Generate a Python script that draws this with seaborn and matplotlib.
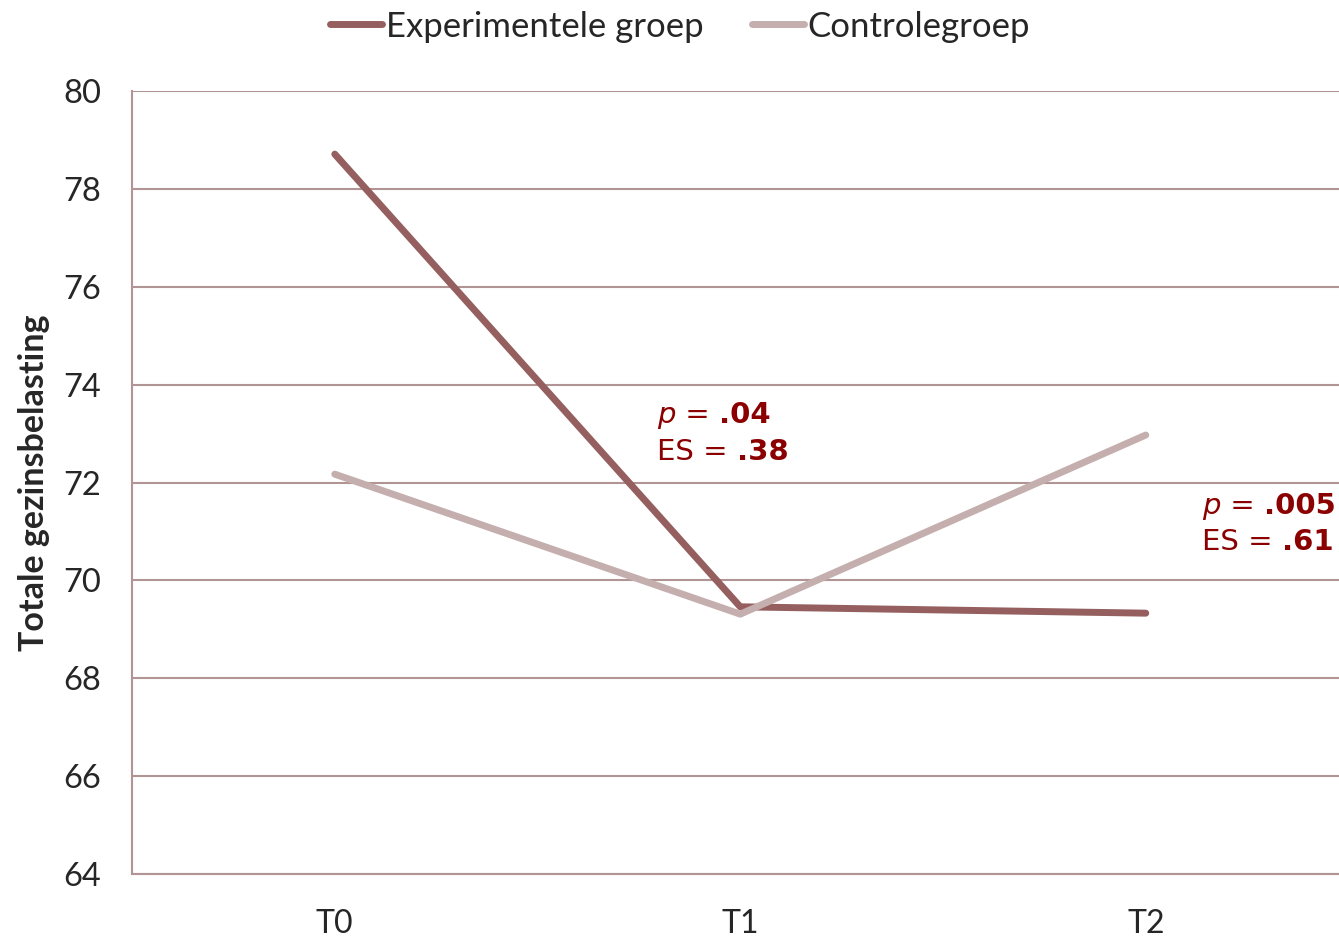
import seaborn as sns
import matplotlib.pyplot as plt
import pandas as pd
from matplotlib.ticker import FixedLocator
from matplotlib.offsetbox import TextArea, HPacker, VPacker, AnnotationBbox

# data
tijdstippen = ["T0", "T1", "T2"]
experimenteel = [78.71, 69.46, 69.33]
controle = [72.17, 69.31, 72.97]
groepen = ["Experimentele groep", "Controlegroep"]

# significance annotations: (p, ES, x position, y position)
p_waarden = [".04", ".005"]
es_waarden = [".38", ".61"]
annot_x = [0.795, 2.139]
annot_y = [73.0, 71.15]

df = pd.DataFrame({
    "tijd": tijdstippen * 2,
    "score": experimenteel + controle,
    "groep": [groepen[0]] * 3 + [groepen[1]] * 3,
})
df["x"] = df["tijd"].map({t: i for i, t in enumerate(tijdstippen)})

sns.set_style("white")
plt.rcParams["font.family"] = ["Lato", "DejaVu Sans"]

grid_kleur = "#B39494"
kleuren = {groepen[0]: "#955F5F", groepen[1]: "#C4AEAE"}
rood = "#8B0000"

fig = plt.figure(figsize=(13.39, 9.40), dpi=100)
ax = fig.add_axes([0.0986, 0.0702, 0.9085, 0.8330])

sns.lineplot(data=df, x="x", y="score", hue="groep", hue_order=groepen,
             palette=kleuren, linewidth=5, ax=ax, legend=False,
             solid_capstyle="round")

ax.set_xlim(-0.5, 2.5)
ax.set_ylim(64, 80)
ax.set_yticks(range(64, 81, 2))
ax.yaxis.grid(True, color=grid_kleur, linewidth=1.5)
ax.set_xticks(range(3))
ax.set_xticklabels(tijdstippen)
ax.xaxis.set_minor_locator(FixedLocator([-0.5, 0.5, 1.5, 2.5]))
ax.tick_params(axis="x", which="major", length=0, pad=25, labelsize=23)
ax.tick_params(axis="x", which="minor", length=8, width=1.5, color=grid_kleur, direction="out")
ax.tick_params(axis="y", length=8, width=1.5, color=grid_kleur, direction="out",
               pad=14, labelsize=23.5)

for kant in ["top", "right"]:
    ax.spines[kant].set_visible(False)
for kant in ["left", "bottom"]:
    ax.spines[kant].set_color(grid_kleur)
    ax.spines[kant].set_linewidth(1.5)

ax.set_xlabel("")
ax.set_ylabel("Totale gezinsbelasting", fontsize=24.5, fontweight="bold", labelpad=10)


def stuk(tekst, **kw):
    return TextArea(tekst, textprops=dict(color=rood, fontsize=21, family="DejaVu Sans", **kw))


for p, es, x, y in zip(p_waarden, es_waarden, annot_x, annot_y):
    regel1 = HPacker(children=[stuk("p", style="italic"), stuk(" = "), stuk(p, weight="bold")],
                     sep=0, pad=0, align="baseline")
    regel2 = HPacker(children=[stuk("ES = "), stuk(es, weight="bold")],
                     sep=0, pad=0, align="baseline")
    blok = VPacker(children=[regel1, regel2], sep=6, pad=0, align="left")
    ab = AnnotationBbox(blok, (x, y), xycoords="data", box_alignment=(0, 0.5),
                        frameon=False, pad=0)
    ax.add_artist(ab)

# legend above the plot
handles = [plt.Line2D([], [], color=kleuren[g], linewidth=5, solid_capstyle="round") for g in groepen]
fig.legend(handles, groepen, loc="upper center", bbox_to_anchor=(0.508, 1.022),
           ncol=2, frameon=False, fontsize=25, handlelength=1.5,
           handletextpad=0.1, columnspacing=1.4)

plt.savefig("out.png", dpi=100)
